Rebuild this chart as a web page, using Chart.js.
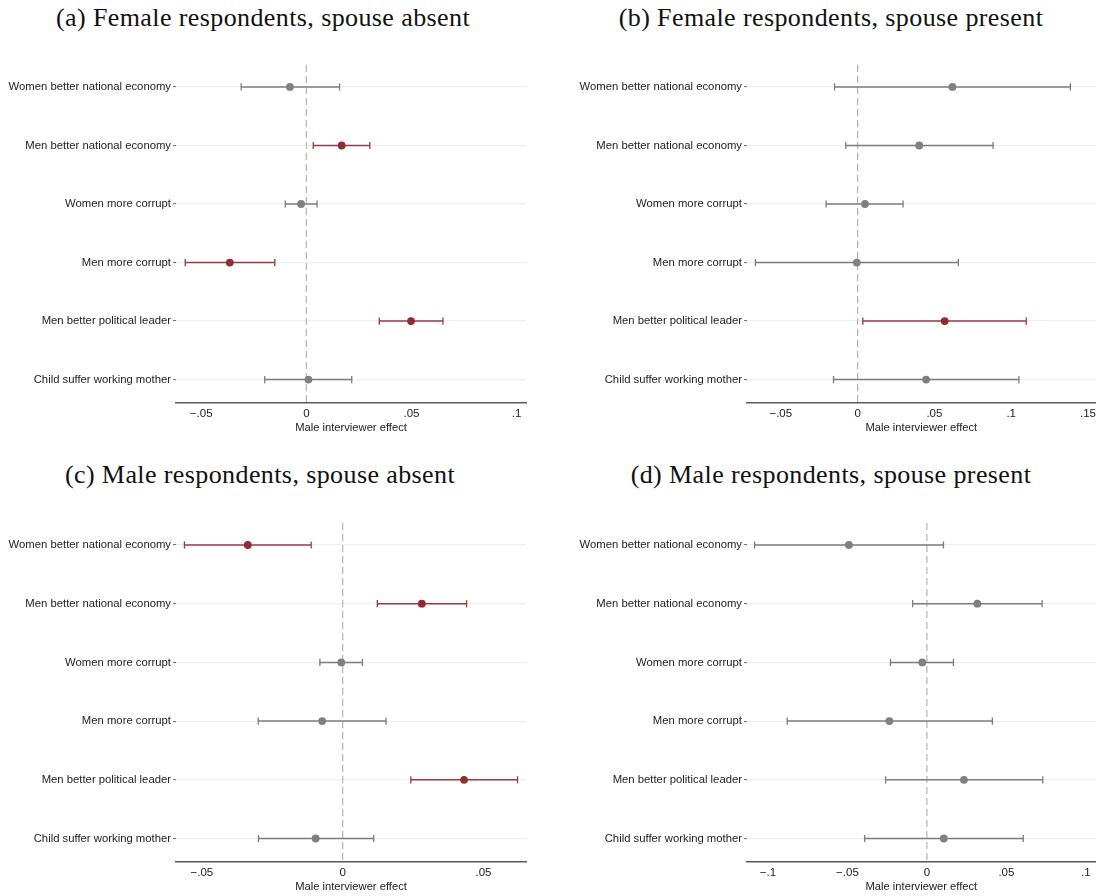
<!DOCTYPE html>
<html>
<head>
<meta charset="utf-8">
<script src="https://cdn.jsdelivr.net/npm/chart.js@4.4.1/dist/chart.umd.min.js"></script>
<style>
  html, body { margin: 0; padding: 0; background: #fff; }
  body { width: 1101px; height: 896px; position: relative; overflow: hidden; }
  .box { position: absolute; }
  .title {
    position: absolute; width: 560px; text-align: center;
    font-family: "Liberation Serif", "DejaVu Serif", serif; font-size: 26px;
    letter-spacing: 0.4px;
    color: #111; line-height: 30px; white-space: nowrap;
  }
</style>
</head>
<body>

<div class="title" style="left:-17px; top:3px;">(a) Female respondents, spouse absent</div>
<div class="title" style="left:551px; top:3px;">(b) Female respondents, spouse present</div>
<div class="title" style="left:-20px; top:460px;">(c) Male respondents, spouse absent</div>
<div class="title" style="left:551px; top:460px;">(d) Male respondents, spouse present</div>

<div class="box" style="left:0px; top:40px; width:545px; height:397px;"><canvas id="chartA"></canvas></div>
<div class="box" style="left:571px; top:40px; width:530px; height:397px;"><canvas id="chartB"></canvas></div>
<div class="box" style="left:0px; top:495px; width:545px; height:401px;"><canvas id="chartC"></canvas></div>
<div class="box" style="left:571px; top:495px; width:530px; height:401px;"><canvas id="chartD"></canvas></div>

<script>
const rowLabels = [
  "Women better national economy",
  "Men better national economy",
  "Women more corrupt",
  "Men more corrupt",
  "Men better political leader",
  "Child suffer working mother"
];

// (a) Female respondents, spouse absent
const aEst = [-0.0078, 0.0168, -0.0025, -0.0364, 0.0498, 0.0010];
const aLow = [-0.0310, 0.0033, -0.0100, -0.0576, 0.0347, -0.0198];
const aHigh = [0.0158, 0.0302, 0.0051, -0.0150, 0.0650, 0.0216];
const aSig = [0, 1, 0, 1, 1, 0];
const aTicks = [-0.05, 0, 0.05, 0.1];
const aTickLabels = ["\u2212.05", "0", ".05", ".1"];
const aRange = [-0.062, 0.1045];

// (b) Female respondents, spouse present
const bEst = [0.0617, 0.0401, 0.0048, -0.0005, 0.0567, 0.0446];
const bLow = [-0.0150, -0.0077, -0.0205, -0.0665, 0.0034, -0.0157];
const bHigh = [0.1385, 0.0882, 0.0296, 0.0656, 0.1098, 0.1050];
const bSig = [0, 0, 0, 0, 1, 0];
const bTicks = [-0.05, 0, 0.05, 0.1, 0.15];
const bTickLabels = ["\u2212.05", "0", ".05", ".1", ".15"];
const bRange = [-0.072, 0.155];

// (c) Male respondents, spouse absent
const cEst = [-0.0337, 0.0281, -0.0005, -0.0073, 0.0431, -0.0096];
const cLow = [-0.0562, 0.0123, -0.0081, -0.0300, 0.0242, -0.0299];
const cHigh = [-0.0112, 0.0440, 0.0070, 0.0154, 0.0621, 0.0110];
const cSig = [1, 1, 0, 0, 1, 0];
const cTicks = [-0.05, 0, 0.05];
const cTickLabels = ["\u2212.05", "0", ".05"];
const cRange = [-0.0592, 0.0651];

// (d) Male respondents, spouse present
const dEst = [-0.0491, 0.0317, -0.0029, -0.0236, 0.0233, 0.0106];
const dLow = [-0.1084, -0.0090, -0.0229, -0.0879, -0.0260, -0.0392];
const dHigh = [0.0104, 0.0725, 0.0167, 0.0412, 0.0729, 0.0606];
const dSig = [0, 0, 0, 0, 0, 0];
const dTicks = [-0.1, -0.05, 0, 0.05, 0.1];
const dTickLabels = ["\u2212.1", "\u2212.05", "0", ".05", ".1"];
const dRange = [-0.1132, 0.1062];

const grayPoint = "#808080";
const grayLine = "#7c7c7c";
const redPoint = "#8f2d35";
const redLine = "#9a3b43";

Chart.defaults.font.family = '"Liberation Sans", Arial, Helvetica, sans-serif';
Chart.defaults.font.size = 11.2;
Chart.defaults.color = "#222";

function makePanel(id, est, low, high, sig, ticks, tickLabels, range, padTop, padRight) {
  const datasets = [];

  // dashed reference line at zero
  datasets.push({
    type: "line",
    data: [{ x: 0, y: 0.625 }, { x: 0, y: 6.4 }],
    borderColor: "#b4b4b4",
    borderWidth: 1.2,
    borderDash: [7, 4],
    pointRadius: 0,
    order: 5
  });

  // confidence intervals with caps
  est.forEach((v, i) => {
    const col = sig[i] ? redLine : grayLine;
    datasets.push({
      type: "line",
      data: [{ x: low[i], y: i + 1 }, { x: high[i], y: i + 1 }],
      borderColor: col,
      borderWidth: 1.5,
      pointStyle: "line",
      pointRotation: 90,
      pointRadius: 3.6,
      pointBorderColor: col,
      pointBorderWidth: 1.3,
      order: 3
    });
  });

  // point estimates
  datasets.push({
    type: "scatter",
    data: est.map((v, i) => ({ x: v, y: i + 1 })),
    pointRadius: 3.9,
    pointBorderWidth: 0,
    pointBackgroundColor: sig.map(s => (s ? redPoint : grayPoint)),
    order: 1
  });

  return new Chart(document.getElementById(id), {
    type: "scatter",
    data: { datasets: datasets },
    options: {
      responsive: true,
      maintainAspectRatio: false,
      animation: false,
      layout: { padding: { top: padTop, right: padRight, left: 0, bottom: 0 } },
      plugins: { legend: { display: false }, tooltip: { enabled: false } },
      scales: {
        x: {
          type: "linear",
          min: range[0],
          max: range[1],
          afterBuildTicks: s => { s.ticks = ticks.map(v => ({ value: v })); },
          afterFit: s => { s.height = 34; },
          ticks: {
            callback: (v, i) => tickLabels[i],
            padding: 4,
            color: "#222",
            maxRotation: 0,
            font: { size: 11.5 }
          },
          grid: { display: false, drawTicks: false },
          border: { display: true, color: "#5a5a5a", width: 1.5 },
          title: {
            display: true,
            text: "Male interviewer effect",
            color: "#222",
            font: { size: 11.2 },
            padding: { top: 0, bottom: 2 }
          }
        },
        y: {
          type: "linear",
          reverse: true,
          min: 0.625,
          max: 6.4,
          afterBuildTicks: s => { s.ticks = rowLabels.map((_, i) => ({ value: i + 1 })); },
          afterFit: s => { s.width = 176; },
          ticks: {
            callback: (v) => rowLabels[v - 1],
            padding: 2,
            color: "#222",
            font: { size: 11.3 }
          },
          grid: {
            display: true,
            color: "#efefef",
            lineWidth: 1.2,
            drawTicks: true,
            tickLength: 3,
            tickColor: "#666",
            tickWidth: 1
          },
          border: { display: false }
        }
      }
    }
  });
}

makePanel("chartA", aEst, aLow, aHigh, aSig, aTicks, aTickLabels, aRange, 25, 19);
makePanel("chartB", bEst, bLow, bHigh, bSig, bTicks, bTickLabels, bRange, 25, 4);
makePanel("chartC", cEst, cLow, cHigh, cSig, cTicks, cTickLabels, cRange, 28, 19);
makePanel("chartD", dEst, dLow, dHigh, dSig, dTicks, dTickLabels, dRange, 28, 4);
</script>
</body>
</html>
